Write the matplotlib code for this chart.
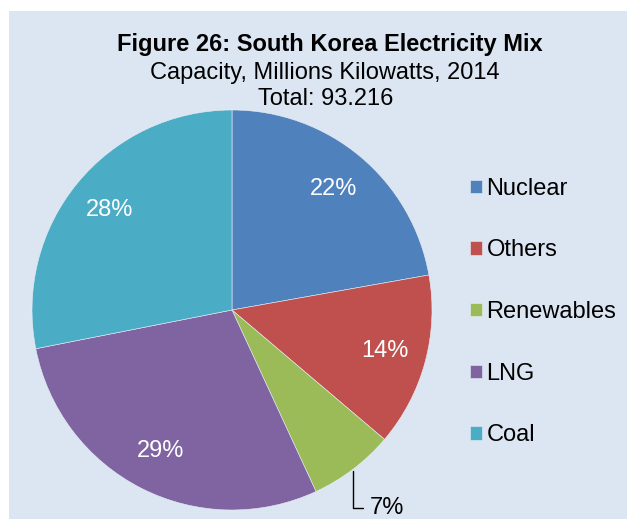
import numpy as np
import matplotlib
matplotlib.use("Agg")
import matplotlib.pyplot as plt
from matplotlib.patches import Rectangle

plt.rcParams['font.family'] = ['Liberation Sans', 'DejaVu Sans']

sources = ["Nuclear", "Others", "Renewables", "LNG", "Coal"]
shares = [22.2, 14.0, 6.9, 28.8, 28.1]
colors = ["#4F81BD", "#C0504D", "#9BBB59", "#8064A2", "#4BACC6"]

W, H = 627, 519
fs = 17
fig = plt.figure(figsize=(W / 100, H / 100), dpi=100)
fig.patch.set_facecolor("white")
fig.patches.append(Rectangle((9 / W, 0), 1 - 9 / W, 1 - 11 / H, transform=fig.transFigure,
                             facecolor="#DCE6F2", edgecolor="none", zorder=-5))

# pie centre (232, 310) px, radius 200 px
cx, cy, r = 232, 310, 200
ax = fig.add_axes([(cx - r) / W, (H - cy - r) / H, 2 * r / W, 2 * r / H])
ax.set_facecolor("none")
ax.set_zorder(2)
wedges, texts, autotexts = ax.pie(shares, colors=colors, startangle=90, counterclock=False,
                                  autopct="%.0f%%", pctdistance=0.79, radius=1,
                                  wedgeprops=dict(linewidth=0.4, edgecolor="#E8EEF6"),
                                  textprops=dict(color="white", fontsize=fs))
ax.set_xlim(-1, 1)
ax.set_ylim(-1, 1)
ax.set_aspect("equal")

# small slice label outside with leader line
w = wedges[2]
mid = np.deg2rad((w.theta1 + w.theta2) / 2)
x0, y0 = np.cos(mid), np.sin(mid)
autotexts[2].set_visible(False)
ax.annotate("7%", xy=(x0, y0 - 0.01), xytext=(x0 + 0.085, y0 - 0.195), fontsize=fs, color="black",
            ha="left", va="center", annotation_clip=False,
            arrowprops=dict(arrowstyle="-", color="black", lw=1,
                            connectionstyle="angle,angleA=0,angleB=90,rad=0",
                            shrinkA=3, shrinkB=0))

fig.text(330 / W, 1 - 45 / H, "Figure 26: South Korea Electricity Mix", ha="center", va="center",
         fontsize=fs, fontweight="bold")
fig.text(325 / W, 1 - 73 / H, "Capacity, Millions Kilowatts, 2014", ha="center", va="center",
         fontsize=fs)
fig.text(326 / W, 1 - 99 / H, "Total: 93.216", ha="center", va="center", fontsize=fs)

fig.legend(wedges, sources, loc="center left", bbox_to_anchor=(470 / W, 1 - 312 / H),
           frameon=False, fontsize=fs, handlelength=0.5, handleheight=0.5,
           handletextpad=0.2, labelspacing=1.68, borderpad=0, borderaxespad=0)

fig.savefig("out.png", dpi=100, facecolor=fig.get_facecolor())
